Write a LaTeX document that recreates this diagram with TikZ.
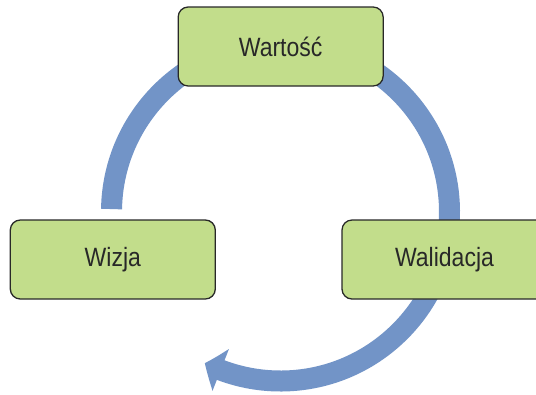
\documentclass[tikz,border=0pt]{standalone}
\usepackage{fontspec}
\setmainfont[FakeStretch=0.87]{Liberation Sans}
\usepackage{tikz}
\usetikzlibrary{arrows.meta,bending}
\pgfdeclarelayer{edgelayer}
\pgfdeclarelayer{nodelayer}
\pgfsetlayers{edgelayer,nodelayer,main}
\definecolor{lgreen}{RGB}{194,221,139}
\definecolor{cblue}{RGB}{114,148,199}
\definecolor{dgrey}{RGB}{40,40,40}
\tikzstyle{none}=[inner sep=0pt]
\tikzstyle{stage}=[rectangle,rounded corners=0.3cm,fill=lgreen,draw=dgrey,line width=1.1pt,minimum width=6.15cm,minimum height=2.37cm,text=dgrey,font=\fontsize{22.6}{26}\selectfont]
\tikzstyle{cycle}=[-{Triangle[length=0.52cm,width=1.32cm,bend]},draw=cblue,line width=0.63cm]

\begin{document}
\begin{tikzpicture}
	\useasboundingbox (0,0) rectangle (16.08,-11.82);
	\begin{pgfonlayer}{nodelayer}
		\node [style=stage] (V) at (8.42, -1.395) {Wartość};
		\node [style=stage] (W) at (3.384, -7.785) {Wizja};
		\node [style=stage] (L) at (13.335, -7.785) {Walidacja};
		\node [style=none] (C) at (8.415, -6.36) {};
	\end{pgfonlayer}
	\begin{pgfonlayer}{edgelayer}
		\draw [style=cycle] (C) ++(179:5.07) arc [start angle=179, end angle=-116.6, radius=5.07];
	\end{pgfonlayer}
\end{tikzpicture}
\end{document}
